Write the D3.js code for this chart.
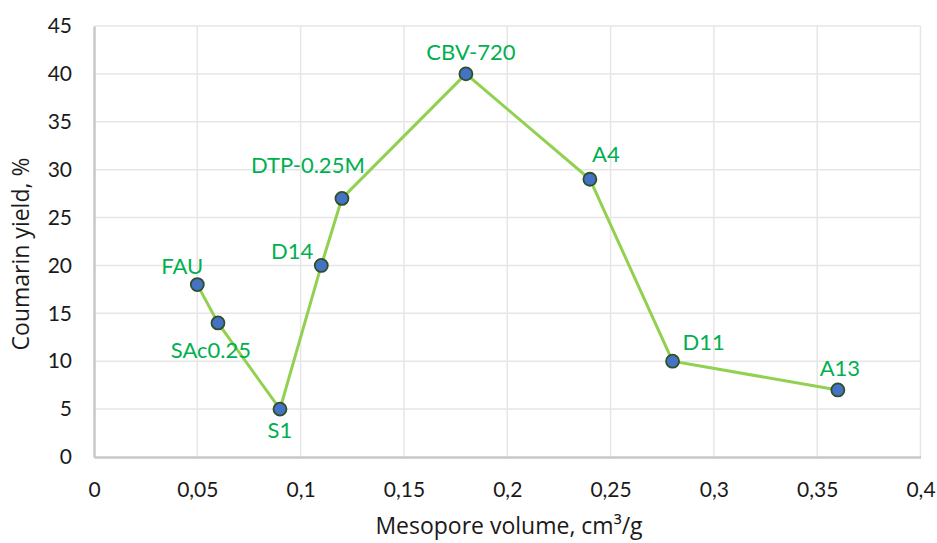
<!DOCTYPE html>
<html><head><meta charset="utf-8">
<script src="https://cdn.jsdelivr.net/npm/d3@7/dist/d3.min.js"></script>
<style>body{margin:0;background:#fff;}svg{display:block;font-family:Lato,"Open Sans",sans-serif;}</style>
</head><body><svg id="c" width="937" height="543"></svg>
<script>
const names = ["FAU","SAc0.25","S1","D14","DTP-0.25M","CBV-720","A4","D11","A13"];
const mesoporeVolume = [0.05,0.06,0.09,0.11,0.12,0.18,0.24,0.28,0.36];
const coumarinYield = [18,14,5,20,27,40,29,10,7];
const xTicks = [0,0.05,0.1,0.15,0.2,0.25,0.3,0.35,0.4];
const yTicks = [0,5,10,15,20,25,30,35,40,45];
// label placement offsets (dx, dy, anchor) per point
const labelOffsets = [[-15,-11,"middle"],[-7,35,"middle"],[0,29,"middle"],[-8,-6,"end"],
  [-34,-25,"middle"],[5,-14,"middle"],[16,-17,"middle"],[10,-11,"start"],[2,-14,"middle"]];

const svg = d3.select("#c");
const x = d3.scaleLinear().domain([0,0.4]).range([94,920.5]);
const y = d3.scaleLinear().domain([0,45]).range([457,26]);
const fmt = v => String(v).replace(".", ",");

svg.append("g").selectAll("line").data(yTicks.slice(1)).join("line")
  .attr("x1",x(0)).attr("x2",x(0.4)).attr("y1",d=>y(d)).attr("y2",d=>y(d))
  .attr("stroke","#e6e6e6").attr("stroke-width",1.5);
svg.append("g").selectAll("line").data(xTicks.slice(1)).join("line")
  .attr("y1",y(0)).attr("y2",y(45)).attr("x1",d=>x(d)).attr("x2",d=>x(d))
  .attr("stroke","#e6e6e6").attr("stroke-width",1.5);

const xa = svg.append("g").attr("transform",`translate(0,${y(0)})`)
  .call(d3.axisBottom(x).tickValues(xTicks).tickFormat(fmt).tickSize(0).tickPadding(25));
const ya = svg.append("g").attr("transform",`translate(${x(0)},0)`)
  .call(d3.axisLeft(y).tickValues(yTicks).tickSize(0).tickPadding(22));
[xa,ya].forEach(a=>{
  a.select(".domain").attr("stroke","#c8c8c8").attr("stroke-width",2.5);
  a.selectAll("text").attr("font-size",21).attr("fill","#1a1a1a").attr("font-family","Lato,sans-serif");
});

const idx = names.map((n,i)=>i);
svg.append("path").datum(idx)
  .attr("d", d3.line().x(i=>x(mesoporeVolume[i])).y(i=>y(coumarinYield[i])))
  .attr("fill","none").attr("stroke","#92d050").attr("stroke-width",3);

svg.append("g").selectAll("circle").data(idx).join("circle")
  .attr("cx",i=>x(mesoporeVolume[i])).attr("cy",i=>y(coumarinYield[i])).attr("r",6.5)
  .attr("fill","#4472c4").attr("stroke","#2f4f2a").attr("stroke-width",1.8);

svg.append("g").selectAll("text").data(idx).join("text")
  .attr("x",i=>x(mesoporeVolume[i])+labelOffsets[i][0])
  .attr("y",i=>y(coumarinYield[i])+labelOffsets[i][1])
  .attr("text-anchor",i=>labelOffsets[i][2])
  .attr("font-size",22).attr("fill","#00b050")
  .text(i=>names[i]);

svg.append("text").attr("x",509).attr("y",534).attr("text-anchor","middle")
  .attr("font-family","'Open Sans',sans-serif")
  .attr("font-size",23).attr("fill","#1a1a1a").text("Mesopore volume, cm³/g");
svg.append("text").attr("transform","translate(29,254) rotate(-90)").attr("text-anchor","middle")
  .attr("font-family","'Open Sans',sans-serif")
  .attr("font-size",23).attr("fill","#1a1a1a").text("Coumarin yield, %");
</script></body></html>
